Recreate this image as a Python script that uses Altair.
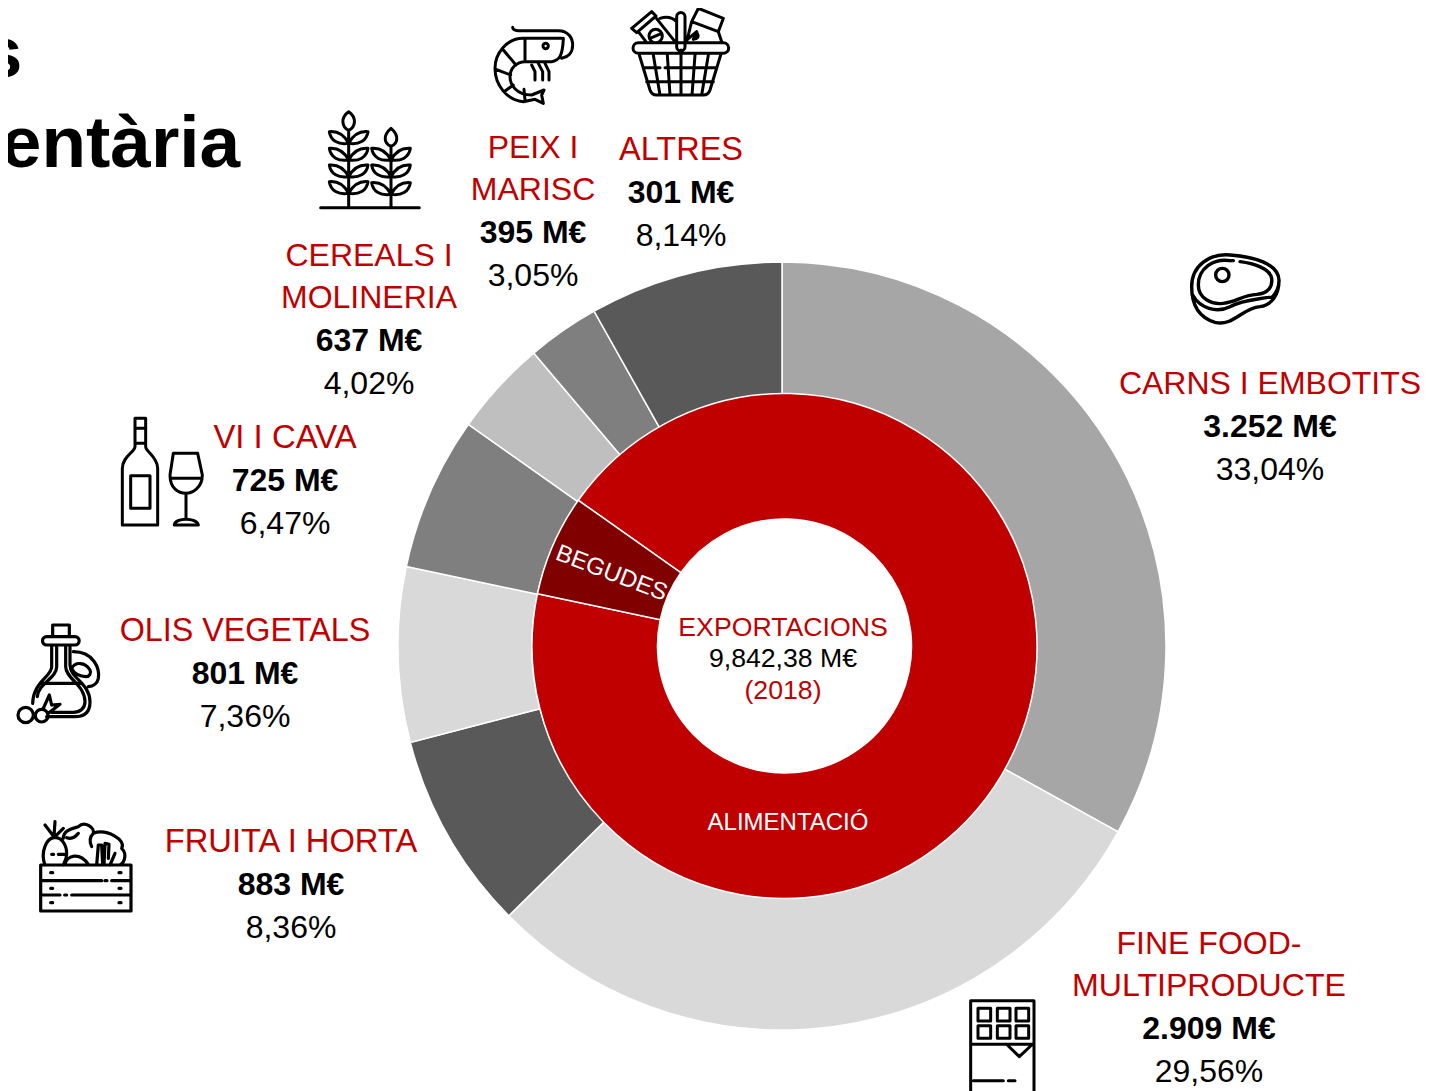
import math
import altair as alt

CATEGORIES = ["CARNS I EMBOTITS", "FINE FOOD-MULTIPRODUCTE", "FRUITA I HORTA", "OLIS VEGETALS",
              "VI I CAVA", "CEREALS I MOLINERIA", "PEIX I MARISC", "ALTRES"]
AMOUNTS = ["3.252 M€", "2.909 M€", "883 M€", "801 M€", "725 M€", "637 M€", "395 M€", "301 M€"]
SHARES = [33.04, 29.56, 8.36, 7.36, 6.47, 4.02, 3.05, 8.14]
SHARE_TEXT = ["33,04%", "29,56%", "8,36%", "7,36%", "6,47%", "4,02%", "3,05%", "8,14%"]
OUTER_COLORS = ["#a6a6a6", "#d9d9d9", "#595959", "#d9d9d9", "#7f7f7f", "#bfbfbf", "#7f7f7f", "#595959"]
GROUPS = ["ALIMENTACIÓ", "BEGUDES"]
GROUP_SHARES = [100 - SHARES[4], SHARES[4]]
GROUP_COLORS = ["#c00000", "#800000"]

FONT = "Liberation Sans"
RED = "#c00000"
M = 8  # page margin


def txt(s, x, y, size=32, color="black", bold=False, angle=None):
    kw = dict(font=FONT, fontSize=size, color=color, align="center", baseline="alphabetic",
              fontWeight="bold" if bold else "normal")
    if angle is not None:
        kw["angle"] = angle
    return alt.Chart(alt.Data(values=[{"t": s}])).mark_text(**kw).encode(
        text="t:N", x=alt.value(x - M), y=alt.value(y - M))


def icon(path, ox, oy, sw=3.0):
    # paths are written in 3x crop pixels: size 4/9 makes the symbol scale 1/3
    return alt.Chart(alt.Data(values=[{"k": 1}])).mark_point(
        shape=path, size=4 / 9, filled=False, stroke="black", strokeWidth=sw, opacity=1,
        strokeCap="round", strokeJoin="round",
    ).encode(x=alt.value(ox - M), y=alt.value(oy - M))


def circ(cx, cy, r):
    return f"M{cx - r},{cy} A{r},{r} 0 1 0 {cx + r},{cy} A{r},{r} 0 1 0 {cx - r},{cy} Z "


def rect(x0, y0, x1, y1):
    return f"M{x0},{y0} L{x1},{y0} L{x1},{y1} L{x0},{y1} Z "


outer = alt.Chart(alt.Data(values=[
    {"c": c, "v": v, "i": i, "col": k} for i, (c, v, k) in enumerate(zip(CATEGORIES, SHARES, OUTER_COLORS))
])).mark_arc(outerRadius=384, innerRadius=250, stroke="white", strokeWidth=1.5).encode(
    theta=alt.Theta("v:Q", stack=True, scale=alt.Scale(domain=[0, 100], range=[0, 2 * math.pi])),
    order=alt.Order("i:Q"),
    color=alt.Color("col:N", scale=None),
    x=alt.value(782 - M), y=alt.value(646 - M),
)

start = 2 * math.pi * sum(SHARES[:5]) / 100
inner = alt.Chart(alt.Data(values=[
    {"c": c, "v": v, "i": i, "col": k} for i, (c, v, k) in enumerate(zip(GROUPS, GROUP_SHARES, GROUP_COLORS))
])).mark_arc(outerRadius=252.5, innerRadius=127, stroke="white", strokeWidth=1.5).encode(
    theta=alt.Theta("v:Q", stack=True, scale=alt.Scale(domain=[0, 100], range=[start, start + 2 * math.pi])),
    order=alt.Order("i:Q"),
    color=alt.Color("col:N", scale=None),
    x=alt.value(784.5 - M), y=alt.value(646 - M),
)

labels = [
    txt("s", 2, 77, 73, bold=True), txt("entària", 120.5, 167, 73, bold=True),
    txt("CARNS I EMBOTITS", 1270, 394, color=RED), txt(AMOUNTS[0], 1270, 437, bold=True), txt(SHARE_TEXT[0], 1270, 480),
    txt("FINE FOOD-", 1209, 954, color=RED), txt("MULTIPRODUCTE", 1209, 996, 32.1, color=RED),
    txt(AMOUNTS[1], 1209, 1039, bold=True), txt(SHARE_TEXT[1], 1209, 1082),
    txt("FRUITA I HORTA", 291, 852, 32.7, color=RED), txt(AMOUNTS[2], 291, 895, bold=True), txt(SHARE_TEXT[2], 291, 938),
    txt("OLIS VEGETALS", 245, 641, 32.3, color=RED), txt(AMOUNTS[3], 245, 684, bold=True), txt(SHARE_TEXT[3], 245, 727),
    txt("VI I CAVA", 285, 448, 32.9, color=RED), txt(AMOUNTS[4], 285, 491, bold=True), txt(SHARE_TEXT[4], 285, 534),
    txt("CEREALS I", 369, 266, color=RED), txt("MOLINERIA", 369, 308, color=RED),
    txt(AMOUNTS[5], 369, 351, bold=True), txt(SHARE_TEXT[5], 369, 394),
    txt("PEIX I", 533, 158, color=RED), txt("MARISC", 533, 200, color=RED),
    txt(AMOUNTS[6], 533, 243, bold=True), txt(SHARE_TEXT[6], 533, 286),
    txt("ALTRES", 681, 160, 32.5, color=RED), txt(AMOUNTS[7], 681, 203, bold=True), txt(SHARE_TEXT[7], 681, 246),
    txt("EXPORTACIONS", 783, 636, 26.67, color=RED), txt("9,842,38 M€", 783, 667, 26.67), txt("(2018)", 783, 699, 26.67, color=RED),
    txt(GROUPS[0], 788, 830, 24, color="white"),
    txt(GROUPS[1], 609, 580, 24, color="white", angle=21),
]

SHRIMP = ("M98,82 Q98,92 115,92 L235,92 C265,92 278,115 278,135 C278,160 262,172 245,175 "
          "M245,115 L130,115 C80,115 45,160 45,205 C45,255 80,300 130,305 L165,298 L190,310 L185,285 L192,270 L155,285 "
          "C110,285 90,255 90,230 C90,205 110,185 135,185 L215,185 C240,180 248,165 250,115 "
          "M135,115 L135,185 " + circ(197, 138, 8) +
          "M155,195 L165,215 L165,240 M175,190 L188,215 L188,240 M195,190 L207,215 L207,240 "
          "M70,150 L108,195 M48,208 L92,225 M72,275 L100,255 M135,300 L132,268 ")
BASKET = ("M475,128 L730,128 A16,16 0 0 1 730,160 L475,160 A16,16 0 0 1 475,128 Z "
          "M478,165 L510,270 Q515,285 530,285 L670,285 Q685,285 690,270 L722,165 "
          "M520,165 L540,285 M562,165 L570,285 M603,150 L603,285 M645,165 L636,285 M685,165 L665,285 "
          "M490,203 L540,203 M555,203 L710,203 M500,245 L700,245 "
          "M590,50 A12,12 0 0 1 615,50 L615,140 A12,12 0 0 1 590,140 Z "
          "M455,85 L515,35 L528,48 L470,98 Z M475,95 L500,128 M525,50 L585,125 " + circ(527, 108, 20) +
          "M510,115 L545,100 M540,55 Q570,45 590,65 "
          "M655,25 L730,55 L715,95 L635,65 Z M635,65 L620,125 M715,95 L725,125 M618,122 L650,95 M640,118 Q645,105 652,100 Q660,115 640,118 ")


def leaf_pair(x, y):
    return (f"M{x},{y} C{x - 16},{y - 30} {x - 36},{y - 37} {x - 58},{y - 35} C{x - 54},{y - 8} {x - 31},{y + 5} {x},{y} Z "
            f"M{x},{y} C{x + 16},{y - 30} {x + 36},{y - 37} {x + 58},{y - 35} C{x + 54},{y - 8} {x + 31},{y + 5} {x},{y} Z ")


def bud(x, y0, y1):
    m = (y0 + y1) * 0.55
    return f"M{x},{y0} C{x - 26},{m - 15} {x - 20},{y1 - 8} {x},{y1} C{x + 20},{y1 - 8} {x + 26},{m - 15} {x},{y0} Z "


CEREAL = ("M32,308 L328,308 M116,76 L116,308 M243,122 L243,308 " + bud(116, 20, 76) + bud(243, 70, 124) +
          "".join(leaf_pair(116, y) for y in (115, 165, 215, 265)) +
          "".join(leaf_pair(243, y) for y in (165, 215, 268)))
MEAT = ("M35,125 C35,60 90,25 150,30 C220,35 295,55 297,105 C298,130 285,148 275,158 "
        "M35,125 C35,170 50,215 105,232 C160,245 185,190 240,185 C275,180 297,150 297,105 "
        "M150,47 C100,40 55,70 55,120 C55,160 95,180 130,175 C170,170 190,150 230,148 C265,145 278,125 275,100 C270,70 220,55 180,50 "
        "M155,47 L160,47 M38,150 C60,190 110,205 150,185 C190,165 220,165 260,158 M265,157 L271,157 " + circ(127, 90, 20))
WINE = ("M60,25 L92,25 L92,110 C92,125 128,140 128,175 L128,345 L22,345 L22,175 C22,140 60,125 60,110 Z "
        "M60,55 L92,55 M60,100 L92,100 " + rect(47, 197, 105, 295) +
        "M175,130 L248,130 L262,195 C262,235 230,250 213,250 C190,250 165,235 165,195 Z "
        "M168,205 L258,205 M213,250 L213,325 M178,345 C180,322 245,322 250,345 Z ")
OIL = ("M128,65 L128,30 L178,30 L178,65 M110,65 L195,65 A12,12 0 0 1 195,90 L110,90 A12,12 0 0 1 110,65 Z "
       "M125,92 L125,155 C125,185 70,200 68,265 M180,92 L180,150 C180,190 240,205 240,260 C240,290 225,305 195,305 L110,305 "
       "M140,92 L140,155 C140,190 85,205 82,245 M167,92 L167,155 C167,190 225,210 225,260 C225,280 210,292 190,292 L125,292 "
       "M95,205 L210,205 M190,110 C250,110 270,160 265,190 C262,205 250,215 235,215 "
       "M185,160 C195,140 225,140 240,165 C245,175 238,185 228,185 C210,185 190,175 185,160 Z "
       + circ(47, 300, 23) + circ(95, 302, 19) +
       "M100,280 L118,240 L125,270 M125,270 L150,268 L115,295 ")
CRATE = (rect(32, 150, 303, 288) +
         "M32,197 L215,197 M245,197 L303,197 M225,197 L231,197 M32,240 L90,240 M125,240 L303,240 M104,240 L110,240 "
         "M62,173 L68,173 M267,173 L273,173 M62,220 L68,220 M267,220 L273,220 M62,263 L68,263 M267,263 L273,263 "
         "M45,150 C30,110 50,70 72,68 C100,65 115,100 108,130 L100,150 M65,118 L71,118 M85,118 L108,118 "
         "M45,30 L72,65 L75,20 M75,65 L100,40 "
         "M100,70 C100,45 130,40 145,35 C165,15 195,40 190,55 C230,40 290,75 275,100 C295,120 280,150 265,150 "
         "M110,68 Q130,75 145,55 M190,55 C180,65 178,80 185,95 "
         "M105,148 C110,120 150,110 175,148 M200,150 L205,90 L215,90 L218,150 M222,150 L225,85 L237,88 L235,130 M240,150 L255,115 ")
CHOC = ("M32,310 L32,32 L222,32 L222,310 M32,163 L222,163 M142,165 L178,200 L215,165 M40,272 L130,272 M145,272 L165,272 " +
        "".join(rect(x, y, x + 38, y + 38) for x in (54, 112, 168) for y in (55, 107)))

icons = [
    icon(SHRIMP + BASKET, 480, 0),
    icon(CEREAL, 310, 105),
    icon(MEAT, 1180, 245, 3.4),
    icon(WINE, 115, 410),
    icon(OIL, 10, 615, 3.2),
    icon(CRATE, 30, 815, 3.2),
    icon(CHOC, 960, 990),
]

chart = alt.layer(outer, inner, *labels, *icons).resolve_scale(theta="independent").properties(
    width=1413, height=1083, padding=0, autosize=alt.AutoSizeParams(type="none"),
    background="white",
).configure_view(stroke=None)

chart.save("out.html", embed_options={"renderer": "svg", "actions": False})
